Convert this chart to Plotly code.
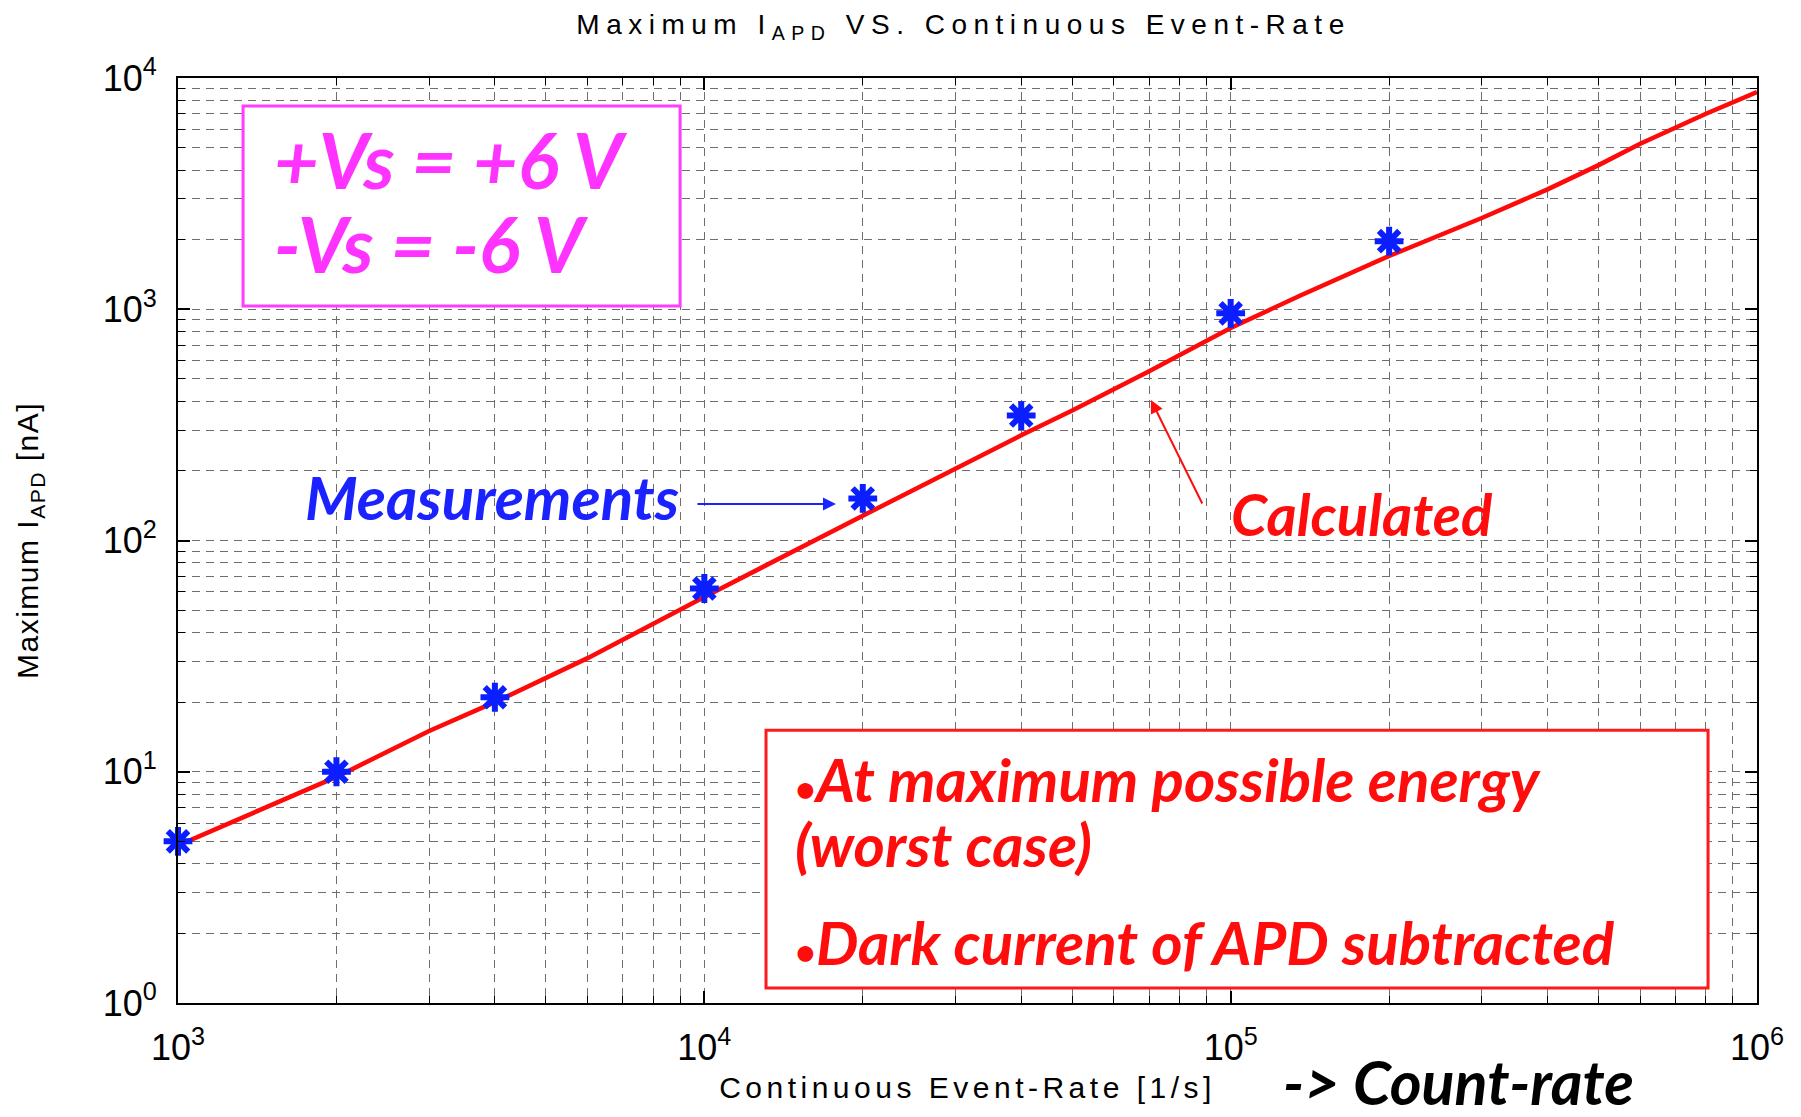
import plotly.graph_objects as go

# Measured maximum APD current at each continuous event rate
meas_rate = [1e3, 2e3, 4e3, 1e4, 2e4, 4e4, 1e5, 2e5]
meas_current = [5.0, 10.0, 21.0, 62.0, 152.0, 347.0, 960.0, 1970.0]

# Calculated curve (event rate [1/s], current [nA])
calc_rate = [1e3, 2e3, 3e3, 4e3, 6e3, 1e4, 2e4, 3e4, 4e4, 5e4, 6e4, 7e4,
             1e5, 1.36e5, 2e5, 3e5, 4e5, 5e5, 6e5, 8e5, 1e6]
calc_current = [4.8, 9.5, 15.0, 20.0, 31.0, 57.0, 128.0, 205.0, 285.0, 365.0,
                450.0, 540.0, 830.0, 1150.0, 1700.0, 2480.0, 3300.0, 4200.0,
                5200.0, 7000.0, 8700.0]

x_tick_vals = [1e3, 1e4, 1e5, 1e6]
x_tick_text = ["10<sup>3</sup>", "10<sup>4</sup>", "10<sup>5</sup>", "10<sup>6</sup>"]
y_tick_vals = [1, 10, 100, 1000, 10000]
y_tick_text = ["10<sup>0</sup>", "10<sup>1</sup>", "10<sup>2</sup>", "10<sup>3</sup>", "10<sup>4</sup>"]

x_minor = [m * 10 ** e for e in range(3, 6) for m in range(2, 10)]
y_minor = [m * 10 ** e for e in range(0, 4) for m in range(2, 10)]

SANS = "Liberation Sans, Arial, sans-serif"
HAND = "Lato, Noto Sans, sans-serif"
GRID = "#6e6e6e"
EPS = 1e-6  # keeps the points sitting exactly on the range edges visible

fig = go.Figure()

fig.add_trace(go.Scatter(
    x=calc_rate, y=calc_current, mode="lines",
    line=dict(color="#ff0a0a", width=4.5),
    showlegend=False, hoverinfo="skip",
))
fig.add_trace(go.Scatter(
    x=meas_rate, y=meas_current, mode="markers",
    marker=dict(symbol="asterisk-open", size=24, color="#0a1eff",
                line=dict(color="#0a1eff", width=6)),
    showlegend=False, cliponaxis=False,
))

axis_common = dict(
    type="log",
    showline=True, linecolor="black", linewidth=2, mirror="ticks",
    ticks="inside", ticklen=12, tickwidth=1.5, tickcolor="black",
    showgrid=True, gridcolor=GRID, gridwidth=1, griddash="8px,6px",
    zeroline=False,
    tickfont=dict(family=SANS, size=36, color="black"),
    ticklabelstandoff=12,
)

fig.update_xaxes(
    **axis_common,
    range=[3 - EPS, 6 + EPS],
    tickvals=x_tick_vals, ticktext=x_tick_text,
    minor=dict(tickvals=x_minor, ticks="inside", ticklen=7, tickwidth=1,
               tickcolor="black", showgrid=True, gridcolor=GRID,
               gridwidth=1, griddash="8px,6px"),
    title=dict(text="Continuous Event-Rate [1/s]",
               font=dict(family=SANS, size=30, color="black"),
               standoff=10),
)
fig.update_yaxes(
    **axis_common,
    range=[0 - EPS, 4 + EPS],
    tickvals=y_tick_vals, ticktext=y_tick_text,
    minor=dict(tickvals=y_minor, ticks="inside", ticklen=7, tickwidth=1,
               tickcolor="black", showgrid=True, gridcolor=GRID,
               gridwidth=1, griddash="8px,6px"),
    title=dict(text="Maximum I<sub>APD</sub> [nA]",
               font=dict(family=SANS, size=30, color="black"),
               standoff=55),
)

# Boxed notes
fig.add_shape(type="rect", xref="x domain", yref="y domain",
              x0=0.0412, x1=0.318, y0=0.7535, y1=0.9697,
              line=dict(color="#ff3cff", width=3), fillcolor="white",
              layer="above")
fig.add_shape(type="rect", xref="x domain", yref="y domain",
              x0=0.3724, x1=0.969, y0=0.0162, y1=0.295,
              line=dict(color="#ff1a1a", width=3), fillcolor="white",
              layer="above")

MAGENTA = "#ff33ff"
RED = "#ff0d0d"
BLUE = "#1a22ff"
DOT = '<span style="font-size:60%">•</span>'


def note(text, x, y, color, size, anchor="left", yanchor="middle"):
    fig.add_annotation(
        text=text, x=x, y=y, xref="x domain", yref="y domain",
        xanchor=anchor, yanchor=yanchor, showarrow=False,
        font=dict(family=HAND, size=size, color=color, style="italic",
                  weight="bold"),
    )


note("+Vs = +6 V", 0.0595, 0.912, MAGENTA, 77)
note("-Vs = -6 V", 0.0595, 0.8215, MAGENTA, 77)
note(DOT + "At maximum possible energy", 0.3895, 0.2422, RED, 60)
note("(worst case)", 0.3895, 0.1719, RED, 60)
note(DOT + "Dark current of APD subtracted", 0.3895, 0.066, RED, 60)
note("Measurements", 0.1989, 0.547, BLUE, 60, anchor="center")
note("Calculated", 0.750, 0.5297, RED, 58, anchor="center")
note("-> Count-rate", 0.6985, -0.0845, "black", 61)

# Pointer arrows
fig.add_annotation(x=0.4167, y=0.5395, xref="x domain", yref="y domain",
                   ax=-140, ay=0, text="", showarrow=True,
                   arrowhead=2, arrowsize=1.3, arrowwidth=2, arrowcolor=BLUE)
fig.add_annotation(x=0.6162, y=0.6519, xref="x domain", yref="y domain",
                   ax=52, ay=105, text="", showarrow=True,
                   arrowhead=2, arrowsize=1.3, arrowwidth=2, arrowcolor=RED)

fig.update_layout(
    width=1801, height=1117,
    margin=dict(l=178, r=44, t=78, b=114),
    paper_bgcolor="white", plot_bgcolor="white",
    title=dict(text="Maximum I<sub>APD</sub> VS. Continuous Event-Rate",
               font=dict(family=SANS, size=28, color="black"),
               x=0.535, xanchor="center", y=0.978, yanchor="middle"),
)

# Widely tracked lettering for the title and axis titles
spacing_js = """
(function () {
  var gd = document.getElementById('{plot_id}');
  var tracking = {'.gtitle': '6.5px', '.xtitle': '4.5px', '.ytitle': '1.5px'};
  function applyTracking() {
    Object.keys(tracking).forEach(function (sel) {
      gd.querySelectorAll(sel).forEach(function (el) {
        el.style.letterSpacing = tracking[sel];
      });
    });
  }
  applyTracking();
  if (gd.on) { gd.on('plotly_afterplot', applyTracking); }
})();
"""

fig.write_html("out.html", post_script=spacing_js)
